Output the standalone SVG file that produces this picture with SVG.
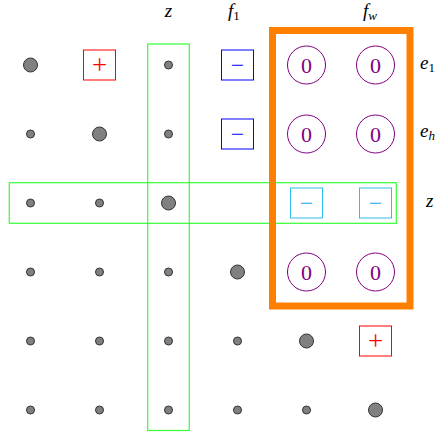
<svg xmlns="http://www.w3.org/2000/svg" width="441" height="435" viewBox="0 0 441 435">
<style>
.bg{fill:#ffffff}
.dot{fill:#808080;stroke:#333333;stroke-width:1}
.pbox{fill:none;stroke:#ff0000;stroke-width:1}
.mbox{fill:none;stroke:#0000ff;stroke-width:1}
.cbox{fill:none;stroke:#33bbee;stroke-width:1}
.zc{fill:none;stroke:#800080;stroke-width:1}
.zt{fill:#800080;font-family:"Liberation Serif",serif;font-size:22px;text-anchor:middle}
.pt{fill:#ff0000;font-family:"Liberation Serif",serif;font-size:27px;text-anchor:middle}
.mt{fill:#0000ff;font-family:"Liberation Serif",serif;font-size:24px;text-anchor:middle}
.ct{fill:#11aaee;font-family:"Liberation Serif",serif;font-size:24px;text-anchor:middle}
.lab{fill:#000000;font-family:"Liberation Serif",serif;font-size:19px;font-style:italic}
.sub{font-size:13px;font-style:normal}
.subi{font-size:13px}
.grn{fill:none;stroke:#33ff33;stroke-width:1.2}
.org{fill:none;stroke:#ff8000;stroke-width:7}
</style>
<rect class="bg" x="0" y="0" width="441" height="435"/>

<g id="labels">
<text class="lab" x="168.5" y="16.5" text-anchor="middle">z</text>
<text class="lab" x="228" y="17">f<tspan class="sub" dy="3">1</tspan></text>
<text class="lab" x="363" y="17">f<tspan class="subi" dy="3">w</tspan></text>
<text class="lab" x="420" y="69">e<tspan class="sub" dy="3">1</tspan></text>
<text class="lab" x="420" y="137">e<tspan class="subi" dy="3">h</tspan></text>
<text class="lab" x="426" y="207">z</text>
</g>

<g id="highlight-col-z"><rect class="grn" x="147.7" y="44" width="41.6" height="386.5"/></g>
<g id="highlight-row-z"><rect class="grn" x="9.3" y="182.7" width="387" height="40.6"/></g>

<!-- row 1 -->
<g id="n11"><circle class="dot" cx="30.5" cy="65" r="7"/></g>
<g id="n12"><rect class="pbox" x="83.5" y="50" width="32" height="30"/><text class="pt" x="99.5" y="74">+</text></g>
<g id="n13"><circle class="dot" cx="168.5" cy="65" r="4"/></g>
<g id="n14"><rect class="mbox" x="221.5" y="50" width="32" height="30"/><text class="mt" x="237.5" y="72.5">−</text></g>
<g id="n15"><circle class="zc" cx="306.5" cy="65" r="19"/><text class="zt" x="306.5" y="72.5">0</text></g>
<g id="n16"><circle class="zc" cx="375.5" cy="65" r="19"/><text class="zt" x="375.5" y="72.5">0</text></g>

<!-- row 2 -->
<g id="n21"><circle class="dot" cx="30.5" cy="134" r="4"/></g>
<g id="n22"><circle class="dot" cx="99.5" cy="134" r="7"/></g>
<g id="n23"><circle class="dot" cx="168.5" cy="134" r="4"/></g>
<g id="n24"><rect class="mbox" x="221.5" y="119" width="32" height="30"/><text class="mt" x="237.5" y="141.5">−</text></g>
<g id="n25"><circle class="zc" cx="306.5" cy="134" r="19"/><text class="zt" x="306.5" y="141.5">0</text></g>
<g id="n26"><circle class="zc" cx="375.5" cy="134" r="19"/><text class="zt" x="375.5" y="141.5">0</text></g>

<!-- row 3 -->
<g id="n31"><circle class="dot" cx="30.5" cy="203" r="4"/></g>
<g id="n32"><circle class="dot" cx="99.5" cy="203" r="4"/></g>
<g id="n33"><circle class="dot" cx="168.5" cy="203" r="7"/></g>
<g id="n35"><rect class="cbox" x="290.5" y="188" width="32" height="30"/><text class="ct" x="306.5" y="210.5">−</text></g>
<g id="n36"><rect class="cbox" x="359.5" y="188" width="32" height="30"/><text class="ct" x="375.5" y="210.5">−</text></g>

<!-- row 4 -->
<g id="n41"><circle class="dot" cx="30.5" cy="272" r="4"/></g>
<g id="n42"><circle class="dot" cx="99.5" cy="272" r="4"/></g>
<g id="n43"><circle class="dot" cx="168.5" cy="272" r="4"/></g>
<g id="n44"><circle class="dot" cx="237.5" cy="272" r="7"/></g>
<g id="n45"><circle class="zc" cx="306.5" cy="272" r="19"/><text class="zt" x="306.5" y="279.5">0</text></g>
<g id="n46"><circle class="zc" cx="375.5" cy="272" r="19"/><text class="zt" x="375.5" y="279.5">0</text></g>

<!-- row 5 -->
<g id="n51"><circle class="dot" cx="30.5" cy="341" r="4"/></g>
<g id="n52"><circle class="dot" cx="99.5" cy="341" r="4"/></g>
<g id="n53"><circle class="dot" cx="168.5" cy="341" r="4"/></g>
<g id="n54"><circle class="dot" cx="237.5" cy="341" r="4"/></g>
<g id="n55"><circle class="dot" cx="306.5" cy="341" r="7"/></g>
<g id="n56"><rect class="pbox" x="359.5" y="326" width="32" height="30"/><text class="pt" x="375.5" y="350">+</text></g>

<!-- row 6 -->
<g id="n61"><circle class="dot" cx="30.5" cy="410" r="4"/></g>
<g id="n62"><circle class="dot" cx="99.5" cy="410" r="4"/></g>
<g id="n63"><circle class="dot" cx="168.5" cy="410" r="4"/></g>
<g id="n64"><circle class="dot" cx="237.5" cy="410" r="4"/></g>
<g id="n65"><circle class="dot" cx="306.5" cy="410" r="4"/></g>
<g id="n66"><circle class="dot" cx="375.5" cy="410" r="7"/></g>

<g id="highlight-block"><rect class="org" x="272.5" y="30.5" width="137.5" height="275.5"/></g>
</svg>
